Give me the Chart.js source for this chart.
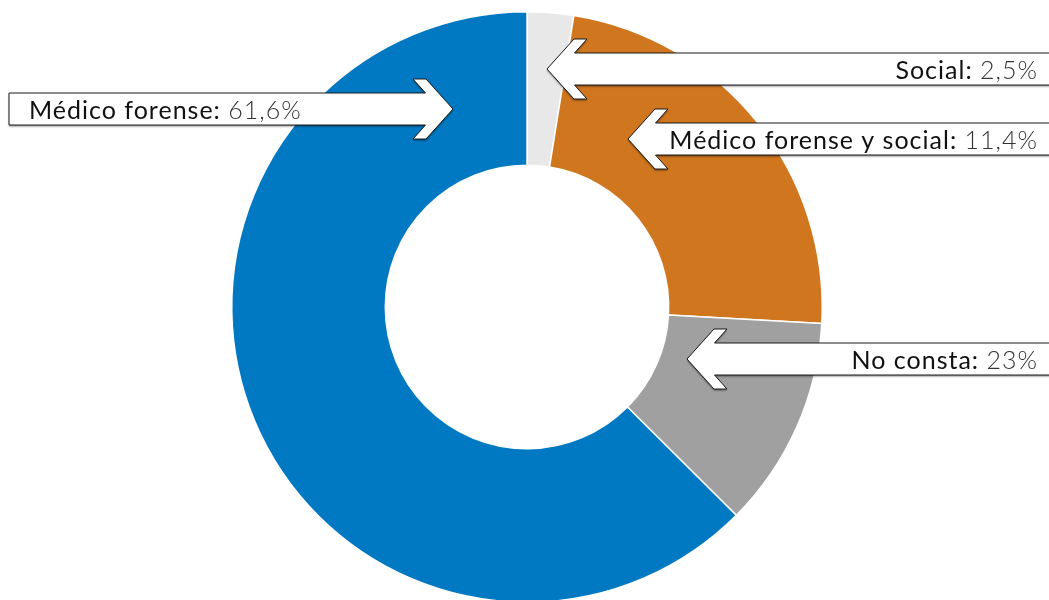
<!DOCTYPE html>
<html>
<head>
<meta charset="utf-8">
<script src="https://cdn.jsdelivr.net/npm/chart.js@4.4.0/dist/chart.umd.min.js"></script>
<style>
  html, body { margin: 0; padding: 0; background: #fff; overflow: hidden; }
  #wrap { position: relative; width: 1049px; height: 610px; }
</style>
</head>
<body>
<div id="wrap"><canvas id="chart"></canvas></div>
<script>
// slice order, clockwise from 12 o'clock
var categories = ['Social', 'No consta', 'Médico forense y social', 'Médico forense'];
var values = [2.5, 23, 11.4, 61.6];
var colors = ['#e8e8e8', '#d0761f', '#a0a0a0', '#0079c2'];

// callouts: which category, arrow tip offset from the chart centre, arrow direction
var callouts = [
    { index: 0, dx: 20, dy: -238, dir: 'left' },
    { index: 2, dx: 101, dy: -168, dir: 'left' },
    { index: 1, dx: 160, dy: 52, dir: 'left' },
    { index: 3, dx: -74, dy: -198, dir: 'right' }
];

function fmt(v) {
    return String(v).replace('.', ',') + '%';
}

function arrowPath(ctx, tx, ty, dir, width) {
    var s = dir == 'left' ? 1 : -1;
    var end = dir == 'left' ? width + 10 : 9;
    ctx.beginPath();
    ctx.moveTo(tx, ty);
    ctx.lineTo(tx + s * 27, ty - 30);
    ctx.lineTo(tx + s * 40, ty - 30);
    ctx.lineTo(tx + s * 27.5, ty - 16);
    ctx.lineTo(end, ty - 16);
    ctx.lineTo(end, ty + 16);
    ctx.lineTo(tx + s * 27.5, ty + 16);
    ctx.lineTo(tx + s * 40, ty + 30);
    ctx.lineTo(tx + s * 27, ty + 30);
    ctx.closePath();
}

var calloutPlugin = {
    id: 'callouts',
    afterDatasetsDraw: function (chart) {
        var ctx = chart.ctx;
        var arc = chart.getDatasetMeta(0).data[0];
        var cx = arc.x, cy = arc.y;
        var labelFont = '400 25px Lato, "Open Sans", sans-serif';
        var valueFont = '300 25px Lato, "Open Sans", sans-serif';
        callouts.forEach(function (c) {
            var tx = cx + c.dx, ty = cy + c.dy;
            ctx.save();
            ctx.shadowColor = 'rgba(0,0,0,0.45)';
            ctx.shadowBlur = 2;
            ctx.shadowOffsetY = 1.5;
            arrowPath(ctx, tx, ty, c.dir, chart.width);
            ctx.fillStyle = '#fff';
            ctx.fill();
            ctx.restore();

            ctx.save();
            arrowPath(ctx, tx, ty, c.dir, chart.width);
            ctx.lineWidth = 1;
            ctx.strokeStyle = '#1a1a1a';
            ctx.stroke();

            var label = categories[c.index] + ': ';
            var value = fmt(values[c.index]);
            ctx.letterSpacing = '1px';
            ctx.font = labelFont;
            var w1 = ctx.measureText(label).width;
            ctx.font = valueFont;
            var w2 = ctx.measureText(value).width;
            var x0 = c.dir == 'left' ? 1038 - (w1 + w2) : 29;
            ctx.textBaseline = 'middle';
            ctx.textAlign = 'left';
            ctx.fillStyle = '#111';
            ctx.font = labelFont;
            ctx.fillText(label, x0, ty + 2);
            ctx.fillStyle = '#333';
            ctx.font = valueFont;
            ctx.fillText(value, x0 + w1, ty + 2);
            ctx.restore();
        });
    }
};

new Chart(document.getElementById('chart').getContext('2d'), {
    type: 'doughnut',
    data: {
        labels: categories,
        datasets: [{
            data: values,
            backgroundColor: colors,
            borderColor: '#ffffff',
            borderWidth: 1.5,
            hoverOffset: 0
        }]
    },
    options: {
        responsive: true,
        maintainAspectRatio: false,
        animation: false,
        cutout: '48%',
        layout: { padding: { top: 11, bottom: 7, left: 5, right: 0 } },
        plugins: {
            legend: { display: false },
            tooltip: { enabled: false }
        }
    },
    plugins: [calloutPlugin]
});
</script>
</body>
</html>
